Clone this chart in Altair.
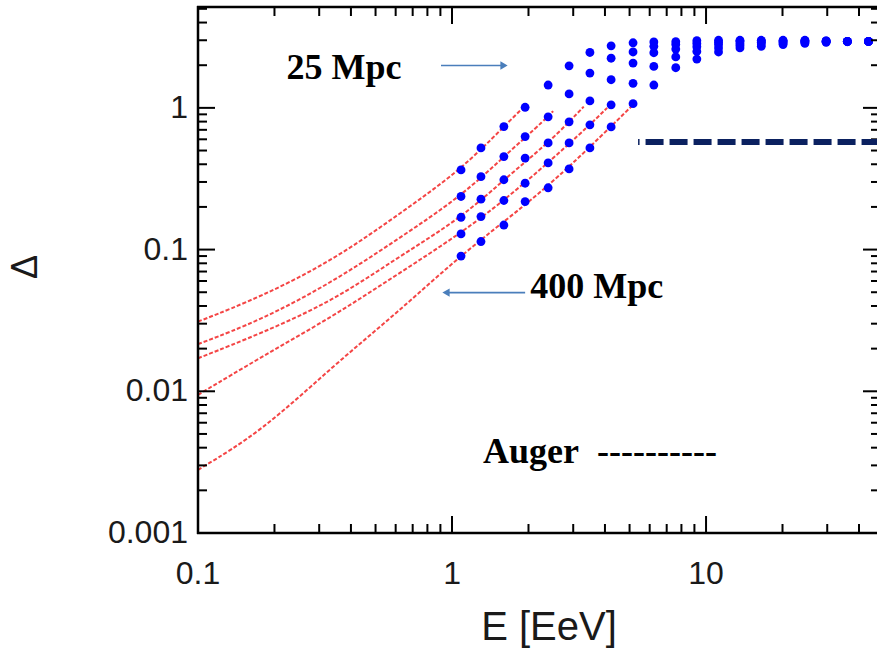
import altair as alt
import pandas as pd

# ---------------- data ----------------
E_dots = [1.085, 1.30, 1.60, 1.94, 2.39, 2.89, 3.49, 4.23, 5.16, 6.23,
          7.6, 9.2, 11.2, 13.6, 16.5, 20.1, 24.5, 29.7, 36.0, 43.6]
dots_25 = [0.365, 0.522, 0.738, 1.01, 1.45, 1.98, 2.46, 2.74, 2.88, 2.92,
           2.93, 2.98, 3.0, 3.0, 3.0, 3.0, 3.0, 2.97, 2.95, 2.95]
dots_50 = [0.237, 0.327, 0.453, 0.627, 0.864, 1.255, 1.76, 2.24, 2.48, 2.72,
           2.8, 2.85, 2.9, 2.95, 2.97, 2.97, 2.98, 2.97, 2.95, 2.95]
dots_100 = [0.169, 0.227, 0.311, 0.442, 0.566, 0.797, 1.12, 1.58, 2.07, 2.45,
            2.6, 2.7, 2.8, 2.85, 2.9, 2.92, 2.95, 2.95, 2.94, 2.94]
dots_200 = [0.129, 0.171, 0.222, 0.294, 0.409, 0.566, 0.759, 1.05, 1.49, 1.96,
            2.29, 2.5, 2.65, 2.75, 2.82, 2.87, 2.9, 2.93, 2.94, 2.94]
dots_400 = [0.090, 0.114, 0.149, 0.218, 0.273, 0.371, 0.522, 0.734, 1.07, 1.45,
            1.92, 2.21, 2.48, 2.65, 2.72, 2.8, 2.85, 2.9, 2.93, 2.94]

curve_25_E = [0.1, 0.178, 0.34, 0.606, 1.085, 1.60, 1.955]
curve_25_D = [0.031, 0.0466, 0.084, 0.173, 0.365, 0.738, 1.05]
curve_50_E = [0.1, 0.178, 0.34, 0.606, 1.085, 1.60, 2.39, 2.5]
curve_50_D = [0.0215, 0.0319, 0.0592, 0.117, 0.237, 0.453, 0.864, 0.95]
curve_100_E = [0.1, 0.178, 0.34, 0.606, 1.085, 1.60, 2.39, 2.89, 3.3]
curve_100_D = [0.0171, 0.0257, 0.0434, 0.087, 0.1666, 0.311, 0.566, 0.797, 1.02]
curve_200_E = [0.1, 0.178, 0.34, 0.606, 1.085, 1.60, 2.39, 3.49, 4.08]
curve_200_D = [0.00944, 0.0175, 0.0338, 0.0663, 0.1306, 0.222, 0.409, 0.759, 1.0]
curve_400_E = [0.1, 0.178, 0.34, 0.606, 1.085, 1.94, 2.89, 5.16]
curve_400_D = [0.00279, 0.0052, 0.0151, 0.0356, 0.0918, 0.205, 0.38, 1.05]

distances = ["25 Mpc", "50 Mpc", "100 Mpc", "200 Mpc", "400 Mpc"]

auger_E = [5.40, 47.1]
auger_D = 0.575

x_major = [0.1, 1, 10]
x_major_labels = ["0.1", "1", "10"]
x_minor = [0.2, 0.3, 0.4, 0.5, 0.6, 0.7, 0.8, 0.9,
           2, 3, 4, 5, 6, 7, 8, 9, 20, 30, 40]
y_major = [0.001, 0.01, 0.1, 1]
y_major_labels = ["0.001", "0.01", "0.1", "1"]
y_minor = [0.002, 0.003, 0.004, 0.005, 0.006, 0.007, 0.008, 0.009,
           0.02, 0.03, 0.04, 0.05, 0.06, 0.07, 0.08, 0.09,
           0.2, 0.3, 0.4, 0.5, 0.6, 0.7, 0.8, 0.9, 2, 3, 4, 5]
x_title = "E [EeV]"
y_title = "Δ"

# annotations (data coordinates)
label_mpc_text = ["25 Mpc", "400 Mpc"]
label_mpc_E = [0.376, 3.71]
label_mpc_D = [1.60, 0.0456]
auger_label = "Auger\u2002----------"
auger_label_E = 1.325
auger_label_D = 0.003125
arrow_E0 = [0.905, 0.964]
arrow_E1 = [1.58, 1.94]
arrow_D = [1.99, 0.0497]
arrow_head_E = [1.602, 0.947]
arrow_head_shape = ["triangle-right", "triangle-left"]

# ---------------- build tables ----------------
W, H = 679, 526
xs = alt.Scale(type="log", domain=[0.1, 47.1], nice=False)
ys = alt.Scale(type="log", domain=[0.001, 5.15], nice=False)

dots_all = [dots_25, dots_50, dots_100, dots_200, dots_400]
dot_rows = []
for d, vals in zip(distances, dots_all):
    for e, v in zip(E_dots, vals):
        dot_rows.append({"dist": d, "E": e, "D": v})
dots_df = pd.DataFrame(dot_rows)

curves = [(curve_25_E, curve_25_D), (curve_50_E, curve_50_D),
          (curve_100_E, curve_100_D), (curve_200_E, curve_200_D),
          (curve_400_E, curve_400_D)]
curve_rows = []
for d, (es, ds) in zip(distances, curves):
    for i, (e, v) in enumerate(zip(es, ds)):
        curve_rows.append({"dist": d, "E": e, "D": v, "o": i})
curves_df = pd.DataFrame(curve_rows)

label_font = "Liberation Sans"
serif = "Liberation Serif"
ink = "#1a1a1a"


def X(field):
    return alt.X(field, scale=xs, axis=None)


def Y(field):
    return alt.Y(field, scale=ys, axis=None)


lines = alt.Chart(curves_df).mark_line(
    color="#f22424", strokeWidth=2, strokeDash=[4, 2], opacity=0.85,
    interpolate="basis", clip=True
).encode(x=X("E:Q"), y=Y("D:Q"), detail="dist:N", order="o:Q")

points = alt.Chart(dots_df).mark_point(
    shape="circle", filled=True, color="#0000ff", size=78, opacity=1
).encode(x=X("E:Q"), y=Y("D:Q"))


def xticks(vals, length):
    df = pd.DataFrame({"t": vals})
    b = alt.Chart(df).mark_rule(color="black", strokeWidth=2).encode(
        x=X("t:Q"), y=alt.value(H), y2=alt.value(H - length))
    t = alt.Chart(df).mark_rule(color="black", strokeWidth=2).encode(
        x=X("t:Q"), y=alt.value(0), y2=alt.value(length))
    return [b, t]


def yticks(vals, length):
    df = pd.DataFrame({"t": vals})
    l = alt.Chart(df).mark_rule(color="black", strokeWidth=2).encode(
        y=Y("t:Q"), x=alt.value(0), x2=alt.value(length))
    r = alt.Chart(df).mark_rule(color="black", strokeWidth=2).encode(
        y=Y("t:Q"), x=alt.value(W + 3), x2=alt.value(W + 3 - length))
    return [l, r]


tick_layers = xticks(x_major, 17) + xticks(x_minor, 9) + yticks(y_major, 17) + yticks(y_minor, 9)

# frame (left, top, bottom; the right edge falls outside the picture)
frame_df = pd.DataFrame({"k": [0]})
frame = [
    alt.Chart(frame_df).mark_rule(color="black", strokeWidth=2.5).encode(
        x=alt.value(0), y=alt.value(-1), y2=alt.value(H + 1)),
    alt.Chart(frame_df).mark_rule(color="black", strokeWidth=2.5).encode(
        x=alt.value(-1), x2=alt.value(W + 5), y=alt.value(0)),
    alt.Chart(frame_df).mark_rule(color="black", strokeWidth=2.5).encode(
        x=alt.value(-1), x2=alt.value(W + 5), y=alt.value(H)),
]

# tick labels and axis titles
xlab_df = pd.DataFrame({"t": x_major, "lab": x_major_labels})
xlabels = alt.Chart(xlab_df).mark_text(
    font=label_font, fontSize=32, color=ink, align="center", baseline="alphabetic"
).encode(x=X("t:Q"), y=alt.value(H + 51), text="lab:N")

ylab_df = pd.DataFrame({"t": y_major, "lab": y_major_labels})
ylabels = alt.Chart(ylab_df).mark_text(
    font=label_font, fontSize=32, color=ink, align="right", baseline="middle"
).encode(y=Y("t:Q"), x=alt.value(-10), text="lab:N")

title_df = pd.DataFrame({"xt": [x_title], "yt": [y_title]})
xtitle = alt.Chart(title_df).mark_text(
    font=label_font, fontSize=40, color=ink, align="center", baseline="alphabetic"
).encode(x=alt.value(351), y=alt.value(H + 107), text="xt:N")
ytitle = alt.Chart(title_df).mark_text(
    font=label_font, fontSize=36, color=ink, align="center", baseline="middle",
    angle=270
).encode(x=alt.value(-172), y=alt.value(260), text="yt:N")

auger_df = pd.DataFrame({"E0": [auger_E[0]], "E1": [auger_E[1]], "D": [auger_D]})
auger = alt.Chart(auger_df).mark_rule(
    color="#0b2160", strokeWidth=6, strokeDash=[18, 6], strokeDashOffset=16.5,
    strokeCap="butt"
).encode(x=X("E0:Q"), x2="E1:Q", y=Y("D:Q"))

arrow_df = pd.DataFrame({"E0": arrow_E0, "E1": arrow_E1, "D": arrow_D,
                         "Eh": arrow_head_E, "shape": arrow_head_shape})
arrow_lines = alt.Chart(arrow_df).mark_rule(color="#4a7ebb", strokeWidth=1.6).encode(
    x=X("E0:Q"), x2="E1:Q", y=Y("D:Q"))
arrow_heads = alt.Chart(arrow_df).mark_point(
    filled=True, color="#4a7ebb", size=70, opacity=1
).encode(x=X("Eh:Q"), y=Y("D:Q"),
         shape=alt.Shape("shape:N", scale=None, legend=None))

mpc_df = pd.DataFrame({"txt": label_mpc_text, "E": label_mpc_E, "D": label_mpc_D})
mpc_text = alt.Chart(mpc_df).mark_text(
    font=serif, fontSize=36, fontWeight="bold", color="black",
    align="center", baseline="alphabetic"
).encode(x=X("E:Q"), y=Y("D:Q"), text="txt:N")

auger_txt_df = pd.DataFrame({"txt": [auger_label], "E": [auger_label_E], "D": [auger_label_D]})
auger_text = alt.Chart(auger_txt_df).mark_text(
    font=serif, fontSize=36, fontWeight="bold", color="black",
    align="left", baseline="alphabetic"
).encode(x=X("E:Q"), y=Y("D:Q"), text="txt:N")

chart = alt.layer(
    lines, points, *tick_layers, *frame, xlabels, ylabels, xtitle, ytitle,
    auger, arrow_lines, arrow_heads, mpc_text, auger_text
).properties(
    width=W, height=H,
    autosize=alt.AutoSizeParams(type="none"),
    padding={"left": 198, "top": 7, "right": 0, "bottom": 116},
    background="white",
).configure_view(
    strokeWidth=0
)

chart.save("out.html", embed_options={"renderer": "svg", "actions": False})
